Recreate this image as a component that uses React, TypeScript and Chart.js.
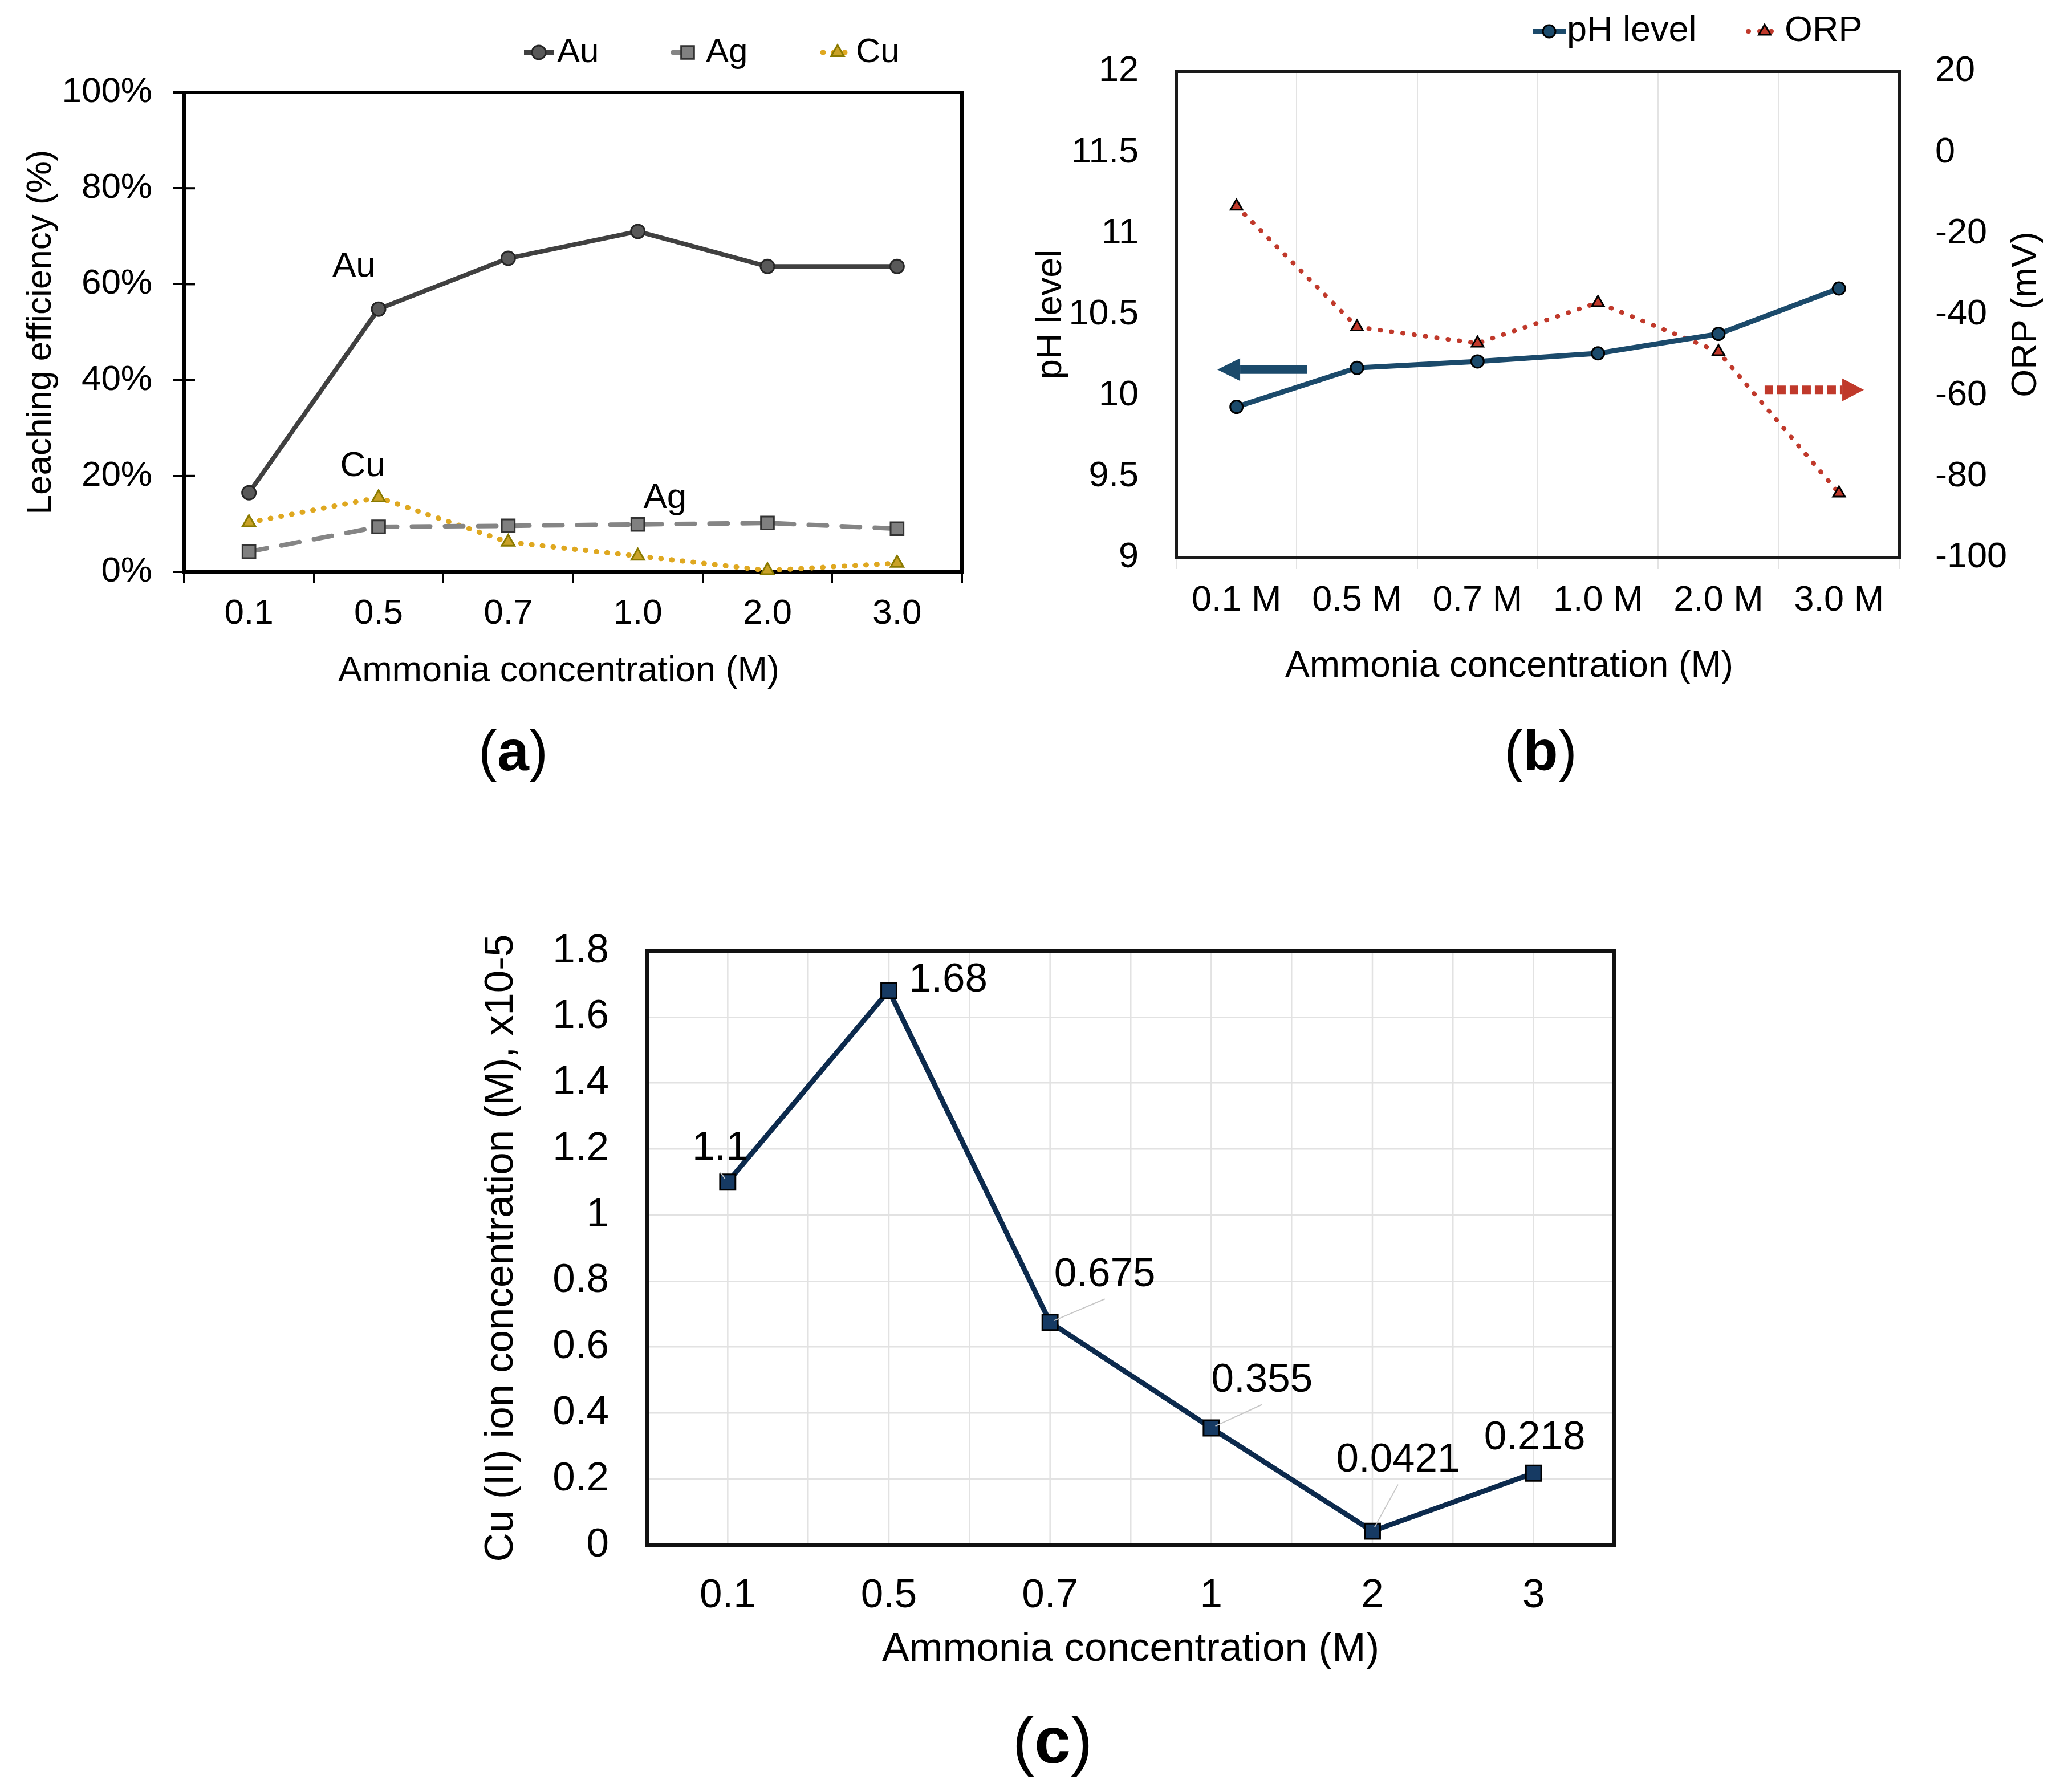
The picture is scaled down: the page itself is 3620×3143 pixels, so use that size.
import React, { useEffect, useRef } from 'react';
import { Chart, registerables } from 'chart.js';

Chart.register(...registerables);

const FONT = '"Liberation Sans", Arial, sans-serif';
Chart.defaults.font.family = FONT;
Chart.defaults.color = '#000';

// ---------- (a) leaching efficiency ----------
const catsA = ['0.1', '0.5', '0.7', '1.0', '2.0', '3.0'];
const auA = [16.5, 54.8, 65.4, 71.0, 63.7, 63.7];
const agA = [4.2, 9.4, 9.6, 9.9, 10.2, 9.0];
const cuA = [10.3, 15.5, 6.2, 3.3, 0.3, 1.8];
const seriesNamesA = ['Au', 'Ag', 'Cu'];
// in-plot series annotations (category index, value %)
const annotTextA = ['Au', 'Cu', 'Ag'];
const annotXA = [0.81, 0.877, 3.21];
const annotYA = [63.6, 22.0, 15.3];

// ---------- (b) pH / ORP ----------
const catsB = ['0.1 M', '0.5 M', '0.7 M', '1.0 M', '2.0 M', '3.0 M'];
const phB = [9.93, 10.17, 10.21, 10.26, 10.38, 10.66];
const orpB = [-13.3, -43.1, -47.1, -37.1, -49.2, -84.1];
const seriesNamesB = ['pH level', 'ORP'];
// axis-indicator arrows: [tail index, tip index, value]
const arrowPhB = [0.584, -0.159, 10.16];
const arrowOrpB = [4.383, 5.207, -58.6];

// ---------- (c) Cu(II) ion concentration ----------
const catsC = ['0.1', '0.5', '0.7', '1', '2', '3'];
const cuC = [1.1, 1.68, 0.675, 0.355, 0.0421, 0.218];
const cuLabelsC = ['1.1', '1.68', '0.675', '0.355', '0.0421', '0.218'];
const labelOffC = [[-13, -59], [104, -18], [96, -83], [89, -83], [45, -124], [2, -61]];
const leaderC = [true, false, true, true, true, false];

const trimNum = (v: any) => String(Math.round(Number(v) * 100) / 100);

function drawMarker(ctx: CanvasRenderingContext2D, style: string, x: number, y: number, r: number, fill: string, stroke: string, lw: number) {
  ctx.save();
  ctx.beginPath();
  if (style === 'circle') {
    ctx.arc(x, y, r, 0, Math.PI * 2);
  } else if (style === 'rect') {
    const s = r * Math.SQRT1_2;
    ctx.rect(x - s, y - s, 2 * s, 2 * s);
  } else {
    for (let k = 0; k < 3; k++) {
      const a = (k * 2 * Math.PI) / 3;
      const px = x + Math.sin(a) * r;
      const py = y - Math.cos(a) * r;
      if (k === 0) ctx.moveTo(px, py);
      else ctx.lineTo(px, py);
    }
    ctx.closePath();
  }
  ctx.fillStyle = fill;
  ctx.fill();
  ctx.lineWidth = lw;
  ctx.strokeStyle = stroke;
  ctx.stroke();
  ctx.restore();
}

function drawLegendItem(ctx: CanvasRenderingContext2D, ds: any, x0: number, y: number, len: number, text: string, size: number, gap: number) {
  ctx.save();
  ctx.strokeStyle = ds.borderColor;
  ctx.lineWidth = ds.borderWidth;
  ctx.setLineDash(ds.borderDash || []);
  ctx.lineCap = ds.borderCapStyle || 'butt';
  ctx.beginPath();
  ctx.moveTo(x0, y);
  ctx.lineTo(x0 + len, y);
  ctx.stroke();
  ctx.setLineDash([]);
  drawMarker(ctx, ds.pointStyle, x0 + len / 2, y, ds.pointRadius, ds.pointBackgroundColor, ds.pointBorderColor, ds.pointBorderWidth);
  ctx.fillStyle = '#000';
  ctx.font = `${size}px ${FONT}`;
  ctx.textAlign = 'left';
  ctx.textBaseline = 'middle';
  ctx.fillText(text, x0 + len + gap, y);
  ctx.restore();
}

function framePlugin(color: string, lw: number) {
  return {
    id: 'frame',
    beforeDatasetsDraw(chart: any) {
      const { left, top, right, bottom } = chart.chartArea;
      const ctx = chart.ctx;
      ctx.save();
      ctx.strokeStyle = color;
      ctx.lineWidth = lw;
      ctx.strokeRect(left, top, right - left, bottom - top);
      ctx.restore();
    },
  };
}

// x-axis title drawn centred at chart-area centre plus a horizontal shift
function xTitlePlugin(shift: number, size: number, bottomPad: number) {
  return {
    id: 'xTitle',
    afterDraw(chart: any) {
      const xs = chart.scales.x;
      const ctx = chart.ctx;
      const { left, right } = chart.chartArea;
      ctx.save();
      ctx.font = `${size}px ${FONT}`;
      ctx.fillStyle = '#000';
      ctx.textAlign = 'center';
      ctx.textBaseline = 'middle';
      ctx.fillText(xs.options.title.text, (left + right) / 2 + shift, xs.bottom - size * 0.6 - bottomPad);
      ctx.restore();
    },
  };
}

function drawArrow(ctx: CanvasRenderingContext2D, x1: number, x2: number, y: number, color: string, thick: number, headLen: number, headHalf: number, dash: number[]) {
  const dir = Math.sign(x2 - x1);
  const baseX = x2 - dir * headLen;
  ctx.save();
  ctx.strokeStyle = color;
  ctx.lineWidth = thick;
  ctx.setLineDash(dash);
  ctx.lineCap = 'butt';
  ctx.beginPath();
  ctx.moveTo(x1, y);
  ctx.lineTo(baseX, y);
  ctx.stroke();
  ctx.setLineDash([]);
  ctx.fillStyle = color;
  ctx.beginPath();
  ctx.moveTo(x2, y);
  ctx.lineTo(baseX, y - headHalf);
  ctx.lineTo(baseX, y + headHalf);
  ctx.closePath();
  ctx.fill();
  ctx.restore();
}

const zeroPad = (s: any) => {
  s.paddingTop = 0;
  s.paddingBottom = 0;
  s.paddingLeft = 0;
  s.paddingRight = 0;
};

function makeA(): any {
  const datasets = [
    { label: seriesNamesA[0], data: auA, borderColor: '#404040', borderWidth: 8, pointStyle: 'circle', pointRadius: 12, pointBackgroundColor: '#595959', pointBorderColor: '#262626', pointBorderWidth: 3, tension: 0, clip: false },
    { label: seriesNamesA[1], data: agA, borderColor: '#858585', borderWidth: 8, borderDash: [32, 26], borderCapStyle: 'round', pointStyle: 'rect', pointRadius: 16, pointBackgroundColor: '#808080', pointBorderColor: '#333333', pointBorderWidth: 3, tension: 0, clip: false },
    { label: seriesNamesA[2], data: cuA, borderColor: '#DFA820', borderWidth: 9, borderDash: [1, 18], borderCapStyle: 'round', pointStyle: 'triangle', pointRadius: 13, pointBackgroundColor: '#C9A227', pointBorderColor: '#8A7A00', pointBorderWidth: 3, tension: 0, clip: false },
  ];
  return {
    type: 'line',
    data: { labels: catsA, datasets },
    options: {
      responsive: false,
      animation: false,
      devicePixelRatio: 1,
      layout: { padding: { left: 0, top: 162, right: 113, bottom: 0 } },
      plugins: { legend: { display: false }, tooltip: { enabled: false } },
      scales: {
        x: {
          offset: true,
          grid: { offset: true, drawOnChartArea: false, drawTicks: true, tickLength: 20, color: '#000', lineWidth: 3 },
          border: { display: false },
          ticks: { font: { size: 62 }, color: '#000', padding: 17, autoSkip: false, maxRotation: 0 },
          title: { display: false, text: 'Ammonia concentration (M)' },
          afterFit: (s: any) => { s.height = 397; zeroPad(s); },
        },
        y: {
          min: 0,
          max: 100,
          ticks: { stepSize: 20, callback: (v: any) => `${v}%`, font: { size: 62 }, color: '#000', padding: 37 },
          grid: { drawOnChartArea: false, tickLength: 19, color: '#000', lineWidth: 4 },
          border: { display: false },
          title: { display: true, text: 'Leaching efficiency (%)', font: { size: 62 }, color: '#000', padding: { top: 35, bottom: 0 } },
          afterFit: (s: any) => { s.width = 323; zeroPad(s); },
        },
      },
    },
    plugins: [
      framePlugin('#000', 6),
      xTitlePlugin(-25, 63, 185),
      {
        id: 'innerTicksA',
        beforeDatasetsDraw(chart: any) {
          const ys = chart.scales.y;
          const ctx = chart.ctx;
          const left = chart.chartArea.left;
          ctx.save();
          ctx.strokeStyle = '#000';
          ctx.lineWidth = 4;
          ys.ticks.forEach((t: any) => {
            const py = ys.getPixelForValue(t.value);
            ctx.beginPath();
            ctx.moveTo(left, py);
            ctx.lineTo(left + 19, py);
            ctx.stroke();
          });
          ctx.restore();
        },
      },
      {
        id: 'legendA',
        afterDraw(chart: any) {
          const ctx = chart.ctx;
          const starts = [919, 1180, 1443];
          chart.data.datasets.forEach((ds: any, i: number) => {
            drawLegendItem(ctx, ds, starts[i], 92, 52, ds.label, 60, 6);
          });
        },
      },
      {
        id: 'annotA',
        afterDatasetsDraw(chart: any) {
          const ctx = chart.ctx;
          const xs = chart.scales.x;
          const ys = chart.scales.y;
          ctx.save();
          ctx.font = `62px ${FONT}`;
          ctx.fillStyle = '#000';
          ctx.textAlign = 'center';
          ctx.textBaseline = 'middle';
          annotTextA.forEach((t, i) => {
            ctx.fillText(t, xs.getPixelForValue(annotXA[i]), ys.getPixelForValue(annotYA[i]));
          });
          ctx.restore();
        },
      },
    ],
  };
}

function makeB(): any {
  const datasets = [
    { label: seriesNamesB[0], data: phB, yAxisID: 'y', borderColor: '#1B4A6B', borderWidth: 9, pointStyle: 'circle', pointRadius: 11, pointBackgroundColor: '#1B4A6B', pointBorderColor: '#000', pointBorderWidth: 3, tension: 0, clip: false },
    { label: seriesNamesB[1], data: orpB, yAxisID: 'y1', borderColor: '#C0392B', borderWidth: 8, borderDash: [1, 19], borderCapStyle: 'round', pointStyle: 'triangle', pointRadius: 12, pointBackgroundColor: '#C0392B', pointBorderColor: '#000', pointBorderWidth: 3, tension: 0, clip: false },
  ];
  return {
    type: 'line',
    data: { labels: catsB, datasets },
    options: {
      responsive: false,
      animation: false,
      devicePixelRatio: 1,
      layout: { padding: { left: 0, top: 125, right: 0, bottom: 0 } },
      plugins: { legend: { display: false }, tooltip: { enabled: false } },
      scales: {
        x: {
          offset: true,
          grid: { offset: true, drawOnChartArea: true, drawTicks: true, tickLength: 20, color: '#E3E3E3', lineWidth: 2 },
          border: { display: false },
          ticks: { font: { size: 63 }, color: '#000', padding: 18, autoSkip: false, maxRotation: 0 },
          title: { display: false, text: 'Ammonia concentration (M)' },
          afterFit: (s: any) => { s.height = 422; zeroPad(s); },
        },
        y: {
          position: 'left',
          min: 9,
          max: 12,
          ticks: { stepSize: 0.5, callback: trimNum, font: { size: 63 }, color: '#000', padding: 58 },
          grid: { display: false },
          border: { display: false },
          title: { display: true, text: 'pH level', font: { size: 63 }, color: '#000', padding: { top: 6, bottom: 0 } },
          afterFit: (s: any) => { s.width = 263; zeroPad(s); },
        },
        y1: {
          position: 'right',
          min: -100,
          max: 20,
          ticks: { stepSize: 20, callback: trimNum, font: { size: 63 }, color: '#000', padding: 55 },
          grid: { display: false },
          border: { display: false },
          title: { display: false, text: 'ORP (mV)' },
          afterFit: (s: any) => { s.width = 289; zeroPad(s); },
        },
      },
    },
    plugins: [
      framePlugin('#1A1A1A', 6),
      xTitlePlugin(-50, 64, 192),
      {
        id: 'extrasB',
        afterDraw(chart: any) {
          const ctx = chart.ctx;
          const y1 = chart.scales.y1;
          // right axis title, reading bottom to top
          ctx.save();
          ctx.translate(y1.right - 66, (chart.chartArea.top + chart.chartArea.bottom) / 2);
          ctx.rotate(-Math.PI / 2);
          ctx.font = `63px ${FONT}`;
          ctx.fillStyle = '#000';
          ctx.textAlign = 'center';
          ctx.textBaseline = 'middle';
          ctx.fillText(y1.options.title.text, 0, 0);
          ctx.restore();
          // legend
          const starts = [888, 1266];
          const gaps = [2, 6];
          chart.data.datasets.forEach((ds: any, i: number) => {
            drawLegendItem(ctx, ds, starts[i], 55, 58, ds.label, 63, gaps[i]);
          });
        },
        afterDatasetsDraw(chart: any) {
          const ctx = chart.ctx;
          const xs = chart.scales.x;
          const y = chart.scales.y;
          const y1 = chart.scales.y1;
          drawArrow(ctx, xs.getPixelForValue(arrowPhB[0]), xs.getPixelForValue(arrowPhB[1]), y.getPixelForValue(arrowPhB[2]), '#1B4A6B', 15, 40, 20, []);
          drawArrow(ctx, xs.getPixelForValue(arrowOrpB[0]), xs.getPixelForValue(arrowOrpB[1]), y1.getPixelForValue(arrowOrpB[2]), '#C0392B', 15, 38, 20, [15, 7]);
        },
      },
    ],
  };
}

function makeC(): any {
  const datasets = [
    { label: 'Cu (II)', data: cuC, borderColor: '#0C2A4D', borderWidth: 9, pointStyle: 'rect', pointRadius: 19, pointBackgroundColor: '#163A63', pointBorderColor: '#000', pointBorderWidth: 3, tension: 0, clip: false },
  ];
  return {
    type: 'line',
    data: { labels: catsC, datasets },
    options: {
      responsive: false,
      animation: false,
      devicePixelRatio: 1,
      layout: { padding: { left: 0, top: 118, right: 169, bottom: 0 } },
      plugins: { legend: { display: false }, tooltip: { enabled: false } },
      scales: {
        x: {
          offset: true,
          grid: { offset: true, drawOnChartArea: true, drawTicks: false, color: '#E2E2E2', lineWidth: 2.5 },
          border: { display: false },
          ticks: { font: { size: 71 }, color: '#000', padding: 47, autoSkip: false, maxRotation: 0 },
          title: { display: true, text: 'Ammonia concentration (M)', font: { size: 71 }, color: '#000', padding: { top: 0, bottom: 14 } },
          afterFit: (s: any) => { s.height = 240; zeroPad(s); },
        },
        y: {
          min: 0,
          max: 1.8,
          ticks: { stepSize: 0.2, callback: trimNum, font: { size: 71 }, color: '#000', padding: 67 },
          grid: { drawTicks: false, color: '#E2E2E2', lineWidth: 2.5 },
          border: { display: false },
          title: { display: true, text: 'Cu (II) ion concentration (M), x10-5', font: { size: 71 }, color: '#000', padding: { top: 37, bottom: 0 } },
          afterFit: (s: any) => { s.width = 335; zeroPad(s); },
        },
      },
    },
    plugins: [
      {
        id: 'midGridC',
        beforeDatasetsDraw(chart: any) {
          const ctx = chart.ctx;
          const xs = chart.scales.x;
          const { top, bottom } = chart.chartArea;
          ctx.save();
          ctx.strokeStyle = '#E2E2E2';
          ctx.lineWidth = 2.5;
          catsC.forEach((_, i) => {
            const px = xs.getPixelForValue(i);
            ctx.beginPath();
            ctx.moveTo(px, top);
            ctx.lineTo(px, bottom);
            ctx.stroke();
          });
          ctx.restore();
        },
      },
      framePlugin('#111', 7),
      {
        id: 'labelsC',
        afterDatasetsDraw(chart: any) {
          const ctx = chart.ctx;
          const meta = chart.getDatasetMeta(0);
          ctx.save();
          meta.data.forEach((pt: any, i: number) => {
            const lx = pt.x + labelOffC[i][0];
            const ly = pt.y + labelOffC[i][1];
            if (leaderC[i]) {
              const sx = lx;
              const sy = ly + 42;
              const dx = sx - pt.x;
              const dy = sy - pt.y;
              const d = Math.hypot(dx, dy) || 1;
              ctx.strokeStyle = '#C8C8C8';
              ctx.lineWidth = 2;
              ctx.beginPath();
              ctx.moveTo(sx, sy);
              ctx.lineTo(pt.x + (dx / d) * 8, pt.y + (dy / d) * 8);
              ctx.stroke();
            }
            ctx.font = `71px ${FONT}`;
            ctx.fillStyle = '#000';
            ctx.textAlign = 'center';
            ctx.textBaseline = 'middle';
            ctx.fillText(cuLabelsC[i], lx, ly);
          });
          ctx.restore();
        },
      },
    ],
  };
}

function ChartCanvas({ left, top, width, height, make }: { left: number; top: number; width: number; height: number; make: () => any }) {
  const ref = useRef<HTMLCanvasElement>(null);
  useEffect(() => {
    const chart = new Chart(ref.current as HTMLCanvasElement, make());
    return () => chart.destroy();
  }, []);
  return <canvas ref={ref} width={width} height={height} style={{ position: 'absolute', left, top, width, height }} />;
}

function PanelLabel({ x, y, letter, size }: { x: number; y: number; letter: string; size: number }) {
  return (
    <div
      style={{
        position: 'absolute',
        left: x,
        top: y,
        transform: 'translate(-50%, -50%)',
        fontFamily: FONT,
        fontSize: size,
        lineHeight: 1,
        color: '#000',
        whiteSpace: 'nowrap',
      }}
    >
      (<b>{letter}</b>)
    </div>
  );
}

export default function App() {
  return (
    <div style={{ position: 'absolute', left: 0, top: 0, width: 3620, height: 3143, background: '#fff', overflow: 'hidden' }}>
      <ChartCanvas left={0} top={0} width={1800} height={1400} make={makeA} />
      <ChartCanvas left={1800} top={0} width={1820} height={1400} make={makeB} />
      <ChartCanvas left={800} top={1550} width={2200} height={1400} make={makeC} />
      <PanelLabel x={900} y={1316} letter="a" size={100} />
      <PanelLabel x={2702} y={1316} letter="b" size={100} />
      <PanelLabel x={1846} y={3052} letter="c" size={115} />
    </div>
  );
}
